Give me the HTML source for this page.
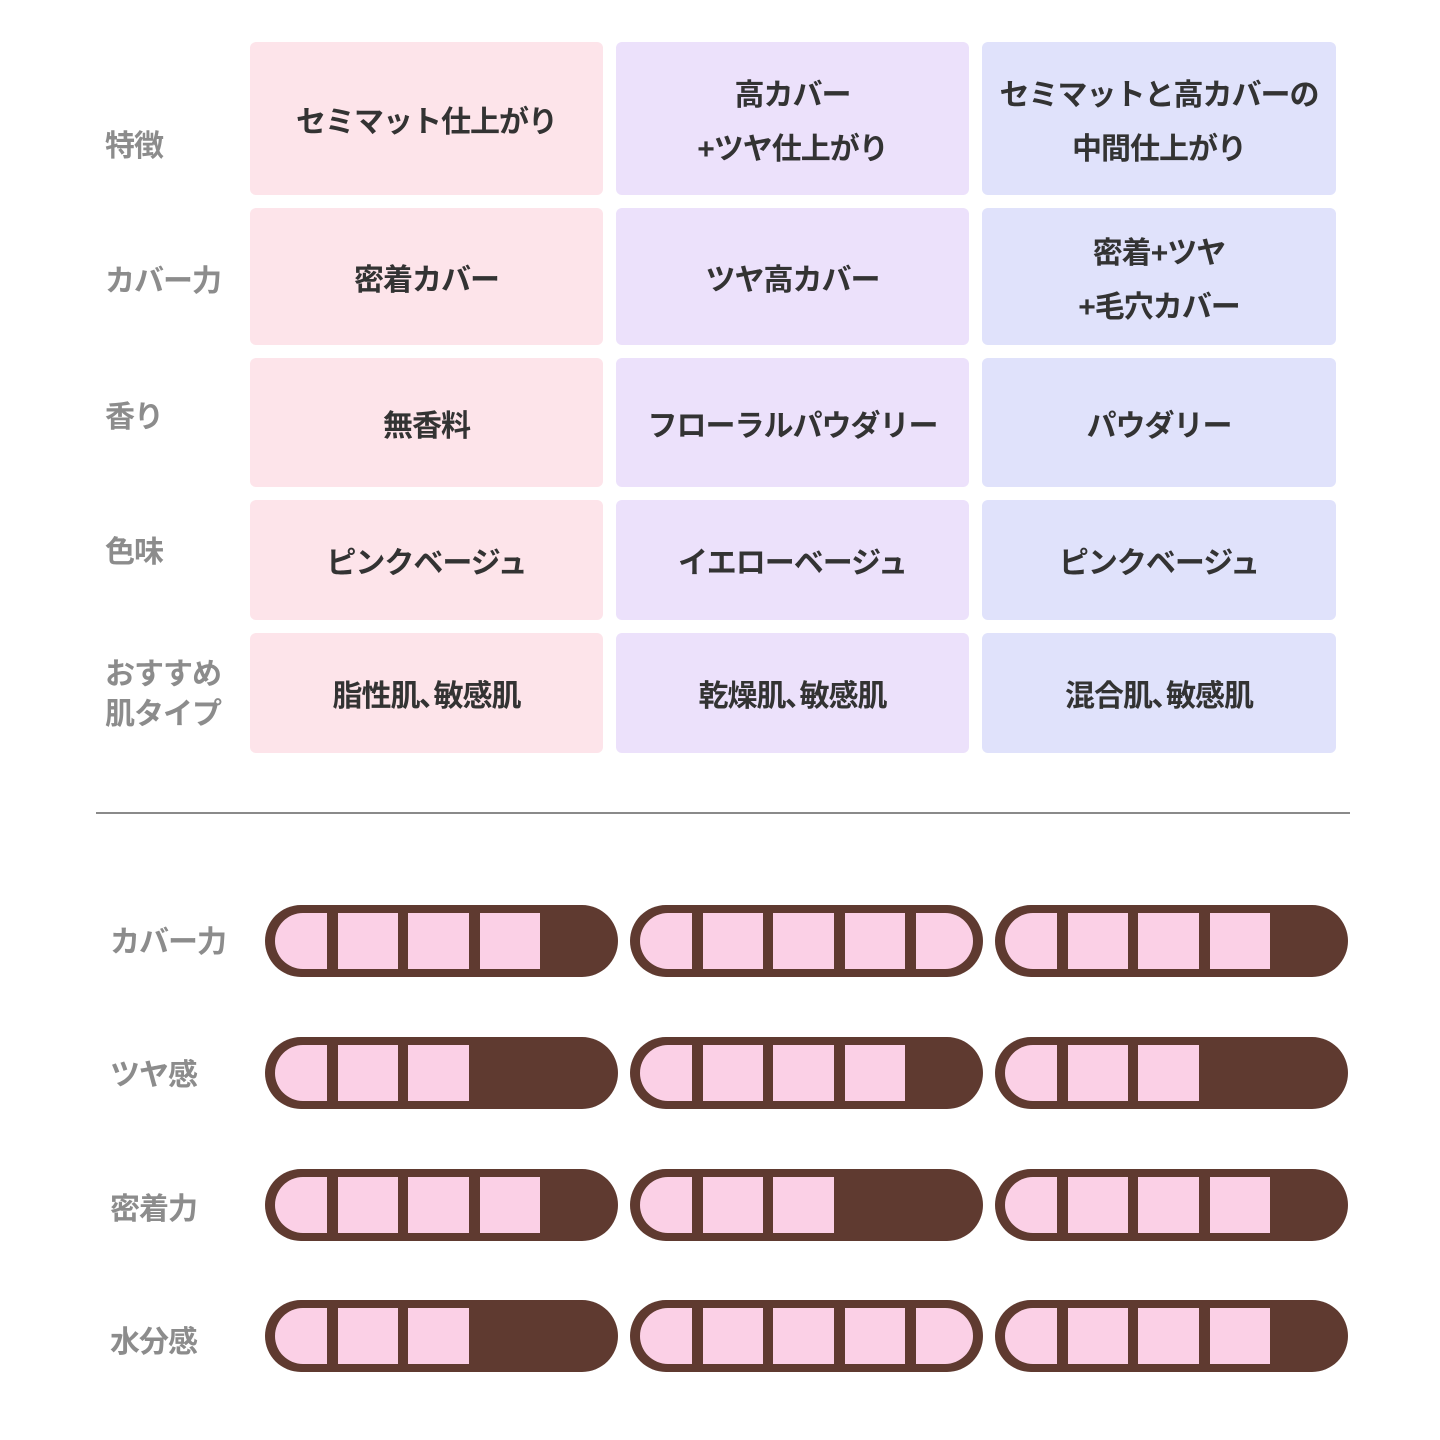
<!DOCTYPE html>
<html><head><meta charset="utf-8"><style>
body{margin:0;width:1440px;height:1440px;background:#fff;position:relative;overflow:hidden;font-family:"Liberation Sans","Noto Sans CJK JP",sans-serif}
.c{position:absolute;box-sizing:border-box;padding-top:8px;border-radius:6px;display:flex;align-items:center;justify-content:center;text-align:center;font-weight:bold;font-size:30px;color:#333;line-height:54px;letter-spacing:-1px}
.p{background:#fde4ea}.l{background:#ece1fb}.b{background:#e0e2fb}
.lb{position:absolute;left:105px;font-size:30px;font-weight:bold;color:#8c8c8c;line-height:40px;letter-spacing:-1px}
.bl{position:absolute;left:110px;font-size:30px;font-weight:bold;color:#8c8c8c;letter-spacing:-1px}
svg.bar{position:absolute}
</style></head><body>
<div class="lb" style="top:127px">特徴</div>
<div class="lb" style="top:262px">カバー力</div>
<div class="lb" style="top:398px">香り</div>
<div class="lb" style="top:533px">色味</div>
<div class="lb" style="top:655px">おすすめ<br>肌タイプ</div>

<div class="c p" style="left:250px;top:42px;width:353px;height:153px">セミマット仕上がり</div>
<div class="c l" style="left:616px;top:42px;width:353px;height:153px">高カバー<br>+ツヤ仕上がり</div>
<div class="c b" style="left:982px;top:42px;width:354px;height:153px">セミマットと高カバーの<br>中間仕上がり</div>

<div class="c p" style="left:250px;top:208px;width:353px;height:137px">密着カバー</div>
<div class="c l" style="left:616px;top:208px;width:353px;height:137px">ツヤ高カバー</div>
<div class="c b" style="left:982px;top:208px;width:354px;height:137px">密着+ツヤ<br>+毛穴カバー</div>

<div class="c p" style="left:250px;top:358px;width:353px;height:129px">無香料</div>
<div class="c l" style="left:616px;top:358px;width:353px;height:129px">フローラルパウダリー</div>
<div class="c b" style="left:982px;top:358px;width:354px;height:129px">パウダリー</div>

<div class="c p" style="left:250px;top:500px;width:353px;height:120px">ピンクベージュ</div>
<div class="c l" style="left:616px;top:500px;width:353px;height:120px">イエローベージュ</div>
<div class="c b" style="left:982px;top:500px;width:354px;height:120px">ピンクベージュ</div>

<div class="c p" style="left:250px;top:633px;width:353px;height:120px">脂性肌､敏感肌</div>
<div class="c l" style="left:616px;top:633px;width:353px;height:120px">乾燥肌､敏感肌</div>
<div class="c b" style="left:982px;top:633px;width:354px;height:120px">混合肌､敏感肌</div>

<div style="position:absolute;left:96px;top:812px;width:1254px;height:2px;background:#8a8a8a"></div>

<div class="bl" style="top:917px">カバー力</div>
<div class="bl" style="top:1050px">ツヤ感</div>
<div class="bl" style="top:1184px">密着力</div>
<div class="bl" style="top:1317px">水分感</div>

<div id="bars"></div>
<script>
var data=[[4,5,4],[3,4,3],[4,3,4],[3,5,4]];
var ys=[905,1037,1169,1300], xs=[265,630,995];
var h='';
for(var r=0;r<4;r++)for(var c=0;c<3;c++){
 var n=data[r][c];
 var s='<svg class="bar" style="left:'+xs[c]+'px;top:'+ys[r]+'px" width="353" height="72" viewBox="0 0 353 72">';
 s+='<rect x="0" y="0" width="353" height="72" rx="36" fill="#5f3a30"/>';
 var P='#fbd0e6';
 if(n>=1) s+='<path d="M62 8 H38 A28 28 0 0 0 38 64 H62 Z" fill="'+P+'"/>';
 var cells=[[73,60],[143,61],[215,60]];
 for(var i=0;i<3;i++) if(n>=i+2) s+='<rect x="'+cells[i][0]+'" y="8" width="'+cells[i][1]+'" height="56" fill="'+P+'"/>';
 if(n>=5) s+='<path d="M286 8 H315 A28 28 0 0 1 315 64 H286 Z" fill="'+P+'"/>';
 s+='</svg>';
 h+=s;
}
document.getElementById('bars').innerHTML=h;
</script>
</body></html>
